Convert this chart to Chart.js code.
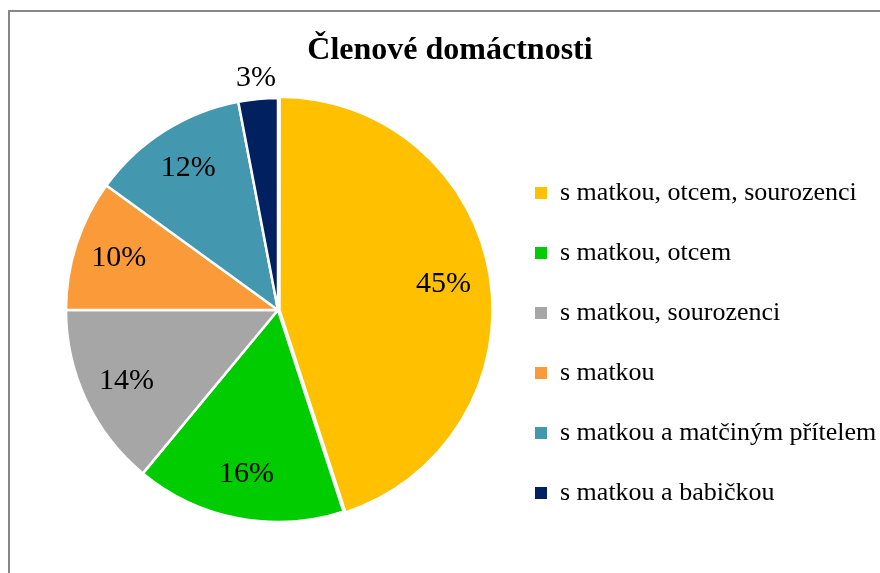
<!DOCTYPE html>
<html lang="cs">
<head>
<meta charset="utf-8">
<title>Členové domáctnosti</title>
<script src="https://cdn.jsdelivr.net/npm/chart.js@4"></script>
<style>
    html, body { margin: 0; padding: 0; background: #fff; overflow: hidden; }
    #ramecek {
        position: absolute; left: 8px; top: 10px;
        width: 900px; height: 600px;
        border-left: 2px solid #868686; border-top: 2px solid #868686;
    }
    #obal { position: absolute; left: 0; top: 0; width: 880px; height: 561px; }
</style>
</head>
<body>
<div id="ramecek">
    <div id="obal"><canvas id="clenoveChart"></canvas></div>
</div>
<script>
// Data grafu
const kategorie = [
    's matkou, otcem, sourozenci',
    's matkou, otcem',
    's matkou, sourozenci',
    's matkou',
    's matkou a matčiným přítelem',
    's matkou a babičkou'
];
const podily = [45, 16, 14, 10, 12, 3];
const barvy = ['#FFC000', '#00CC00', '#A6A6A6', '#FB9A38', '#4397AE', '#002060'];
const vysunuti = [6, 0, 0, 0, 0, 0];

const pismo = '"Liberation Serif", "Times New Roman", serif';

// vlastni popisky procent ve vysecich
const popiskyPlugin = {
    id: 'popisky',
    afterDatasetsDraw(chart) {
        const ctx = chart.ctx;
        const meta = chart.getDatasetMeta(0);
        ctx.save();
        ctx.font = '30px ' + pismo;
        ctx.fillStyle = '#000';
        ctx.textAlign = 'center';
        ctx.textBaseline = 'middle';
        meta.data.forEach((arc, i) => {
            const p = arc.getProps(['x', 'y', 'startAngle', 'endAngle', 'outerRadius'], true);
            const uhel = (p.startAngle + p.endAngle) / 2;
            const k = podily[i] < 5 ? 1.1 : 0.79; // maly dil ma popisek venku
            const r = p.outerRadius * k;
            ctx.fillText(podily[i] + '%', p.x + Math.cos(uhel) * r, p.y + Math.sin(uhel) * r);
        });
        ctx.restore();
    }
};

// legenda je uzsi kvuli rozlozeni, text ale nesmi byt oriznuty
const legendaBezOrezu = {
    id: 'legendaBezOrezu',
    afterLayout(chart) {
        if (chart.legend) chart.legend.right = chart.width;
    }
};

document.addEventListener('DOMContentLoaded', function() {
    const ctxGraf = document.getElementById('clenoveChart');
    const zakladLegendy = Chart.controllers.pie.overrides.plugins.legend.labels.generateLabels;

    new Chart(ctxGraf, {
        type: 'pie',
        data: {
            labels: kategorie,
            datasets: [{
                data: podily,
                backgroundColor: barvy,
                borderColor: '#FFFFFF',
                borderWidth: 2.5,
                offset: vysunuti
            }]
        },
        options: {
            responsive: true,
            maintainAspectRatio: false,
            animation: false,
            radius: 212,
            layout: { padding: { left: 45, right: 45, top: 0, bottom: 33 } },
            plugins: {
                title: {
                    display: true,
                    text: 'Členové domáctnosti',
                    color: '#000',
                    font: { family: pismo, size: 32, weight: 'bold' },
                    padding: { top: 20, bottom: 9.6 }
                },
                legend: {
                    display: true,
                    position: 'right',
                    align: 'end',
                    maxWidth: 344,
                    labels: {
                        boxWidth: 12,
                        boxHeight: 12,
                        padding: 34,
                        color: '#000',
                        font: { family: pismo, size: 26 },
                        generateLabels: function(chart) {
                            return zakladLegendy(chart).map(polozka => {
                                polozka.lineWidth = 0;
                                return polozka;
                            });
                        }
                    }
                },
                tooltip: { enabled: false }
            }
        },
        plugins: [popiskyPlugin, legendaBezOrezu]
    });
});
</script>
</body>
</html>
